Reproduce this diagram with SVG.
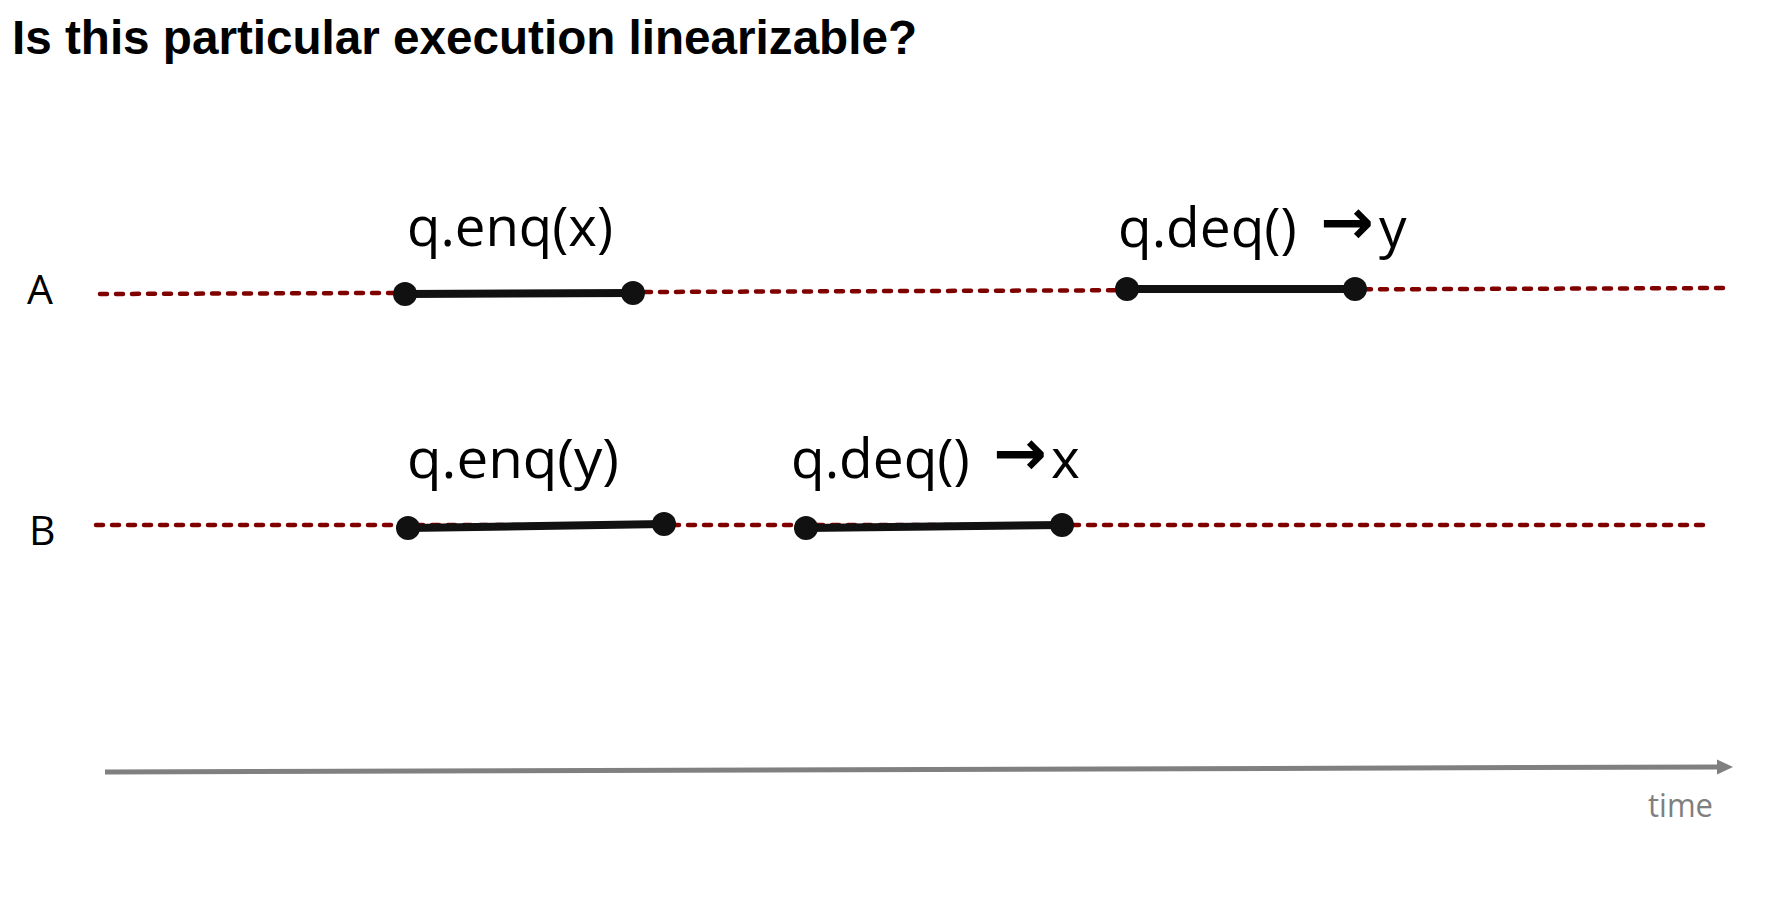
<svg xmlns="http://www.w3.org/2000/svg" width="1787" height="905" viewBox="0 0 1787 905">
  <style>
    .title { font-family: "Liberation Sans", Arial, sans-serif; font-weight: bold; font-size: 48px; fill: #000; }
    .proc { font-family: "Open Sans", "Liberation Sans", sans-serif; font-size: 41px; fill: #000; }
    .op { font-family: "Open Sans", "Liberation Sans", "DejaVu Sans", sans-serif; font-size: 55px; fill: #000; }
    .arr { font-family: "DejaVu Sans", sans-serif; font-weight: bold; font-size: 64px; }
    .time { font-family: "Open Sans", "Liberation Sans", sans-serif; font-size: 32px; fill: #7f7f7f; }
    .life { stroke: #800000; stroke-width: 4.5; stroke-dasharray: 7 9; stroke-linecap: round; fill: none; }
    .seg { stroke: #111; stroke-width: 8; fill: none; }
    .dot { fill: #111; }
    .axis { stroke: #808080; stroke-width: 5; fill: none; }
  </style>
  <defs>
    <marker id="axisHead" markerUnits="userSpaceOnUse" markerWidth="16" markerHeight="16" refX="2" refY="8" orient="auto">
      <path d="M0,0.5 L16,8 L0,15.5 z" fill="#808080"/>
    </marker>
  </defs>
  <rect width="1787" height="905" fill="#fff"/>

  <g id="title">
    <text class="title" x="12" y="54" textLength="905" lengthAdjust="spacingAndGlyphs">Is this particular execution linearizable?</text>
  </g>

  <g id="connectors">
    <line id="lifeline-A" class="life" x1="100" y1="294" x2="1729" y2="288"/>
    <line id="lifeline-B" class="life" x1="96" y1="525" x2="1706" y2="525"/>
    <line id="time-axis" class="axis" x1="105" y1="772" x2="1719" y2="767" marker-end="url(#axisHead)"/>
  </g>

  <g id="label-A"><text class="proc" x="27" y="304">A</text></g>
  <g id="label-B"><text class="proc" x="29" y="545">B</text></g>

  <g id="op-A-enq-x">
    <line class="seg" x1="405" y1="294" x2="633" y2="293"/>
    <circle class="dot" cx="405" cy="294" r="12"/>
    <circle class="dot" cx="633" cy="293" r="12"/>
    <text class="op" x="407" y="246" textLength="206" lengthAdjust="spacingAndGlyphs">q.enq(x)</text>
  </g>

  <g id="op-A-deq-y">
    <line class="seg" x1="1127" y1="289" x2="1355" y2="289"/>
    <circle class="dot" cx="1127" cy="289" r="12"/>
    <circle class="dot" cx="1355" cy="289" r="12"/>
    <text class="op" y="247"><tspan x="1118">q.deq() </tspan><tspan class="arr" x="1320" dy="-3">→</tspan><tspan x="1379" dy="3">y</tspan></text>
  </g>

  <g id="op-B-enq-y">
    <line class="seg" x1="408" y1="528" x2="664" y2="524"/>
    <circle class="dot" cx="408" cy="528" r="12"/>
    <circle class="dot" cx="664" cy="524" r="12"/>
    <text class="op" x="407" y="478" textLength="212" lengthAdjust="spacingAndGlyphs">q.enq(y)</text>
  </g>

  <g id="op-B-deq-x">
    <line class="seg" x1="806" y1="528" x2="1062" y2="525"/>
    <circle class="dot" cx="806" cy="528" r="12"/>
    <circle class="dot" cx="1062" cy="525" r="12"/>
    <text class="op" y="478"><tspan x="791">q.deq() </tspan><tspan class="arr" x="993" dy="-3">→</tspan><tspan x="1051" dy="3">x</tspan></text>
  </g>

  <g id="label-time">
    <text class="time" x="1648" y="817" textLength="65" lengthAdjust="spacingAndGlyphs">time</text>
  </g>
</svg>
